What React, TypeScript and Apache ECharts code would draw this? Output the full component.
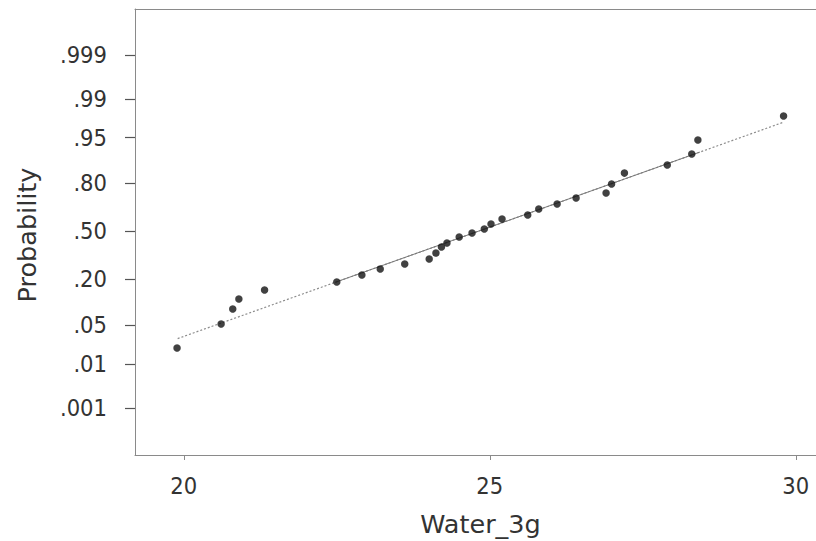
import React, { useEffect, useRef } from "react";
import * as echarts from "echarts";

// Observed Water_3g values (sorted) and their plotted cumulative probabilities
const waterValues = [
  19.89, 20.61, 20.8, 20.9, 21.32, 22.5, 22.91, 23.21, 23.61, 24.01, 24.12, 24.21,
  24.3, 24.5, 24.71, 24.91, 25.02, 25.2, 25.62, 25.8, 26.1, 26.41, 26.9, 26.99,
  27.2, 27.9, 28.3, 28.4, 29.8,
];
const probValues = [
  0.0206, 0.0525, 0.0872, 0.1184, 0.1525, 0.188, 0.2228, 0.2556, 0.2844, 0.315,
  0.353, 0.393, 0.42, 0.462, 0.49, 0.5175, 0.552, 0.587, 0.614, 0.653, 0.685,
  0.721, 0.75, 0.7975, 0.847, 0.878, 0.913, 0.9456, 0.9786,
];

// Fitted normal line
const fitMean = 24.8;
const fitSd = 2.61;
const fitRange = [19.9, 29.8];
const fitSolidRange = [22.47, 28.43];

// Axis ticks
const yTickProbs = [0.001, 0.01, 0.05, 0.2, 0.5, 0.8, 0.95, 0.99, 0.999];
const yTickLabels = [".001", ".01", ".05", ".20", ".50", ".80", ".95", ".99", ".999"];
const xTicks = [20, 25, 30];

function normInv(p: number): number {
  const a = [-3.969683028665376e1, 2.209460984245205e2, -2.759285104469687e2, 1.38357751867269e2, -3.066479806614716e1, 2.506628277459239];
  const b = [-5.447609879822406e1, 1.615858368580409e2, -1.556989798598866e2, 6.680131188771972e1, -1.328068155288572e1];
  const c = [-7.784894002430293e-3, -3.223964580411365e-1, -2.400758277161838, -2.549732539343734, 4.374664141464968, 2.938163982698783];
  const d = [7.784695709041462e-3, 3.224671290700398e-1, 2.445134137142996, 3.754408661907416];
  const plow = 0.02425;
  if (p < plow) {
    const q = Math.sqrt(-2 * Math.log(p));
    return (((((c[0] * q + c[1]) * q + c[2]) * q + c[3]) * q + c[4]) * q + c[5]) /
      ((((d[0] * q + d[1]) * q + d[2]) * q + d[3]) * q + 1);
  }
  if (p > 1 - plow) {
    const q = Math.sqrt(-2 * Math.log(1 - p));
    return -(((((c[0] * q + c[1]) * q + c[2]) * q + c[3]) * q + c[4]) * q + c[5]) /
      ((((d[0] * q + d[1]) * q + d[2]) * q + d[3]) * q + 1);
  }
  const q = p - 0.5;
  const r = q * q;
  return ((((((a[0] * r + a[1]) * r + a[2]) * r + a[3]) * r + a[4]) * r + a[5]) * q) /
    (((((b[0] * r + b[1]) * r + b[2]) * r + b[3]) * r + b[4]) * r + 1);
}

const X_MIN = 19.203;
const X_MAX = 30.33;
const Z_MIN = -3.918;
const Z_MAX = 3.9;

export default function App() {
  const ref = useRef<HTMLDivElement>(null);
  useEffect(() => {
    document.body.style.margin = "0";
    if (!ref.current) return;
    const chart = echarts.init(ref.current, undefined, { renderer: "svg" });
    const zTicks = yTickProbs.map(normInv);
    const points = waterValues.map((x, i) => [x, normInv(probValues[i])]);
    const fitZ = (x: number) => (x - fitMean) / fitSd;
    const fitLine = fitRange.map((x) => [x, fitZ(x)]);
    const fitSolid = fitSolidRange.map((x) => [x, fitZ(x)]);
    const tickFont = "'DejaVu Sans Condensed', 'Open Sans', sans-serif";
    const titleFont = "'DejaVu Sans', Verdana, sans-serif";
    const axisGray = "#8a8a8a";

    chart.setOption({
      animation: false,
      backgroundColor: "#ffffff",
      grid: { left: 135, top: 9, right: 0, bottom: 86, outerBoundsMode: "none" },
      xAxis: [
        {
          type: "value",
          min: X_MIN,
          max: X_MAX,
          position: "bottom",
          name: "Water_3g",
          nameLocation: "middle",
          nameGap: 56,
          nameTextStyle: { fontFamily: titleFont, fontSize: 25.5, color: "#333", padding: [0, 0, 0, 10] },
          axisLine: { show: true, onZero: false, lineStyle: { color: axisGray, width: 1 } },
          axisTick: { show: true, length: 5, lineStyle: { color: axisGray }, customValues: xTicks },
          axisLabel: {
            customValues: xTicks,
            margin: 19,
            fontFamily: tickFont,
            fontSize: 23.5,
            color: "#333",
            formatter: (v: number) => String(Math.round(v)),
          },
          splitLine: { show: false },
        },
        {
          type: "value",
          min: X_MIN,
          max: X_MAX,
          position: "top",
          axisLine: { show: true, onZero: false, lineStyle: { color: axisGray, width: 1 } },
          axisTick: { show: false },
          axisLabel: { show: false },
          splitLine: { show: false },
        },
      ],
      yAxis: {
        type: "value",
        min: Z_MIN,
        max: Z_MAX,
        name: "Probability",
        nameLocation: "middle",
        nameGap: 95,
        nameTextStyle: { fontFamily: titleFont, fontSize: 25.5, color: "#333", padding: [0, 6, 0, 0] },
        axisLine: { show: true, onZero: false, lineStyle: { color: axisGray, width: 1 } },
        axisTick: { show: true, inside: false, length: 10, lineStyle: { color: "#555", width: 1.2 }, customValues: zTicks },
        axisLabel: {
          customValues: zTicks,
          margin: 28,
          fontFamily: tickFont,
          fontSize: 23.5,
          color: "#333",
          formatter: (v: number) => {
            let best = 0;
            for (let i = 0; i < zTicks.length; i++) {
              if (Math.abs(zTicks[i] - v) < Math.abs(zTicks[best] - v)) best = i;
            }
            return yTickLabels[best];
          },
        },
        splitLine: { show: false },
      },
      series: [
        {
          type: "line",
          data: fitLine,
          symbol: "none",
          lineStyle: { color: "#8c8c8c", width: 1.2, type: [2, 2] },
          silent: true,
          z: 1,
        },
        {
          type: "line",
          data: fitSolid,
          symbol: "none",
          lineStyle: { color: "#7a7a7a", width: 1 },
          silent: true,
          z: 2,
        },
        {
          type: "scatter",
          data: points,
          symbol: "circle",
          symbolSize: 7.5,
          itemStyle: { color: "#111111" },
          z: 3,
        },
      ],
    });
    return () => chart.dispose();
  }, []);
  return <div ref={ref} style={{ width: 816, height: 541 }} />;
}
